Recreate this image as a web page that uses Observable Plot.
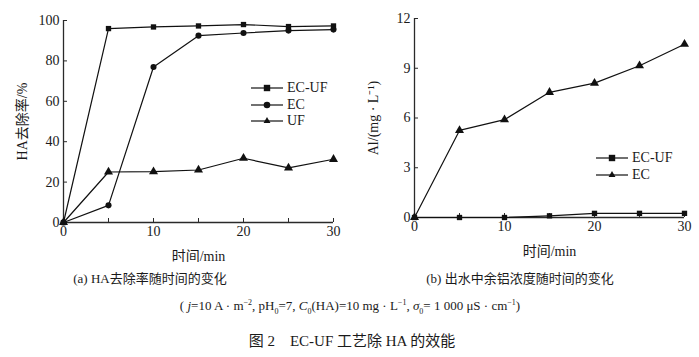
<!DOCTYPE html>
<html><head><meta charset="utf-8">
<script src="https://cdn.jsdelivr.net/npm/d3@7"></script>
<script src="https://cdn.jsdelivr.net/npm/@observablehq/plot@0.6"></script>
<style>
body{margin:0;background:#fff;width:699px;height:357px;position:relative;overflow:hidden;font-family:"Liberation Serif","Noto Sans CJK SC",serif;color:#1a1a1a}
.abs{position:absolute;white-space:nowrap}
.cap{font-size:13px;transform:translateX(-50%)}
</style></head><body>
<div id="a" class="abs" style="left:0;top:0"></div>
<div id="b" class="abs" style="left:350px;top:0"></div>
<div class="abs cap" style="left:150px;top:268px">(a) HA去除率随时间的变化</div>
<div class="abs cap" style="left:520px;top:268px">(b) 出水中余铝浓度随时间的变化</div>
<div class="abs cap" style="left:350px;top:298px">( <i>j</i>=10 A · m<sup style="font-size:8px">−2</sup>, pH<sub style="font-size:8px">0</sub>=7, <i>C</i><sub style="font-size:8px">0</sub>(HA)=10 mg · L<sup style="font-size:8px">−1</sup>, <i>σ</i><sub style="font-size:8px">0</sub>= 1 000 μS · cm<sup style="font-size:8px">−1</sup>)</div>
<div class="abs cap" style="left:352px;top:329px;font-size:15px">图 2&nbsp;&nbsp;&nbsp;&nbsp;EC-UF 工艺除 HA 的效能</div>
<script>
// ---- data ----
const time = [0, 5, 10, 15, 20, 25, 30];
const removalECUF = [0, 96, 96.8, 97.3, 98, 97, 97.3];
const removalEC   = [0, 8.5, 77, 92.5, 93.8, 95, 95.5];
const removalUF   = [0, 25, 25.2, 26, 31.8, 27, 31.3];
const alECUF = [0, 0, 0, 0.1, 0.25, 0.25, 0.25];
const alEC   = [0, 5.25, 5.9, 7.55, 8.1, 9.15, 10.45];
const xTicks = [0, 5, 10, 15, 20, 25, 30];
const xLabels = [0, 10, 20, 30];
const yTicksA = [0, 20, 40, 60, 80, 100];
const yTicksB = [0, 3, 6, 9, 12];
const seriesA = [
  {name: "EC-UF", values: removalECUF, symbol: "square"},
  {name: "EC", values: removalEC, symbol: "circle"},
  {name: "UF", values: removalUF, symbol: "triangle"}
];
const seriesB = [
  {name: "EC-UF", values: alECUF, symbol: "square"},
  {name: "EC", values: alEC, symbol: "triangle"}
];
const rSym = {square: 3.2, circle: 3.3, triangle: 4};

function rows(series) {
  return series.flatMap(s => time.map((t, i) => ({t, v: s.values[i], name: s.name, symbol: s.symbol})));
}

function chart({series, yDomain, yTicks, yLabel, width, ml, mr, mt, mb, height, labelOffsetY}) {
  const data = rows(series);
  const fw = width - ml - mr, fh = height - mt - mb;
  const ax = "#2a2a2a";
  return Plot.plot({
    width, height, marginLeft: ml, marginRight: mr, marginTop: mt, marginBottom: mb,
    style: {fontFamily: '"Liberation Serif","Noto Sans CJK SC",serif', fontSize: "14px", color: "#1a1a1a", background: "#fff"},
    x: {domain: [0, 30]},
    y: {domain: yDomain},
    marks: [
      Plot.ruleX([0], {stroke: ax, strokeWidth: 1.3}),
      Plot.ruleY([yDomain[0]], {stroke: ax, strokeWidth: 1.3}),
      Plot.tickX(xTicks, {x: d => d, insetTop: fh - 4, stroke: ax}),
      Plot.tickY(yTicks, {y: d => d, insetRight: fw - 4, stroke: ax}),
      Plot.axisX(xLabels, {tickSize: 0, tickPadding: 4, label: "时间/min", labelAnchor: "center", labelOffset: 38, labelArrow: "none", fontSize: 14}),
      Plot.axisY(yTicks, {tickSize: 0, tickPadding: 4, label: yLabel, labelAnchor: "center", labelOffset: labelOffsetY, labelArrow: "none", fontSize: 14}),
      Plot.line(data, {x: "t", y: "v", z: "name", stroke: "#111", strokeWidth: 1.2}),
      Plot.dot(data, {x: "t", y: "v", symbol: "symbol", r: d => rSym[d.symbol], fill: "#111", stroke: "none"})
    ],
    symbol: {type: "identity"}
  });
}

function legend(series, left, top, gap) {
  const div = document.createElement("div");
  div.className = "abs";
  div.style.left = left + "px";
  div.style.top = top + "px";
  series.forEach((s, i) => {
    const row = document.createElement("div");
    row.style.cssText = `height:${gap}px;display:flex;align-items:center;font-size:14px;`;
    const svg = d3.create("svg").attr("width", 34).attr("height", 12).style("display", "block");
    svg.append("line").attr("x1", 0).attr("x2", 32).attr("y1", 6).attr("y2", 6).attr("stroke", "#111").attr("stroke-width", 1.2);
    const sym = s.symbol === "square" ? d3.symbolSquare : s.symbol === "circle" ? d3.symbolCircle : d3.symbolTriangle;
    const r = rSym[s.symbol];
    const area = s.symbol === "square" ? (2*r)**2 : s.symbol === "circle" ? Math.PI*r*r : r*r*1.3;
    svg.append("path").attr("d", d3.symbol(sym, area)()).attr("transform", "translate(16,6)").attr("fill", "#111");
    row.appendChild(svg.node());
    const t = document.createElement("span");
    t.textContent = s.name;
    t.style.marginLeft = "2px";
    row.appendChild(t);
    div.appendChild(row);
  });
  document.body.appendChild(div);
}

document.getElementById("a").appendChild(chart({
  series: seriesA, yDomain: [0, 100], yTicks: yTicksA, yLabel: "HA去除率/%",
  width: 350, ml: 63, mr: 17, mt: 20, mb: 40, height: 262, labelOffsetY: 46
}));
document.getElementById("b").appendChild(chart({
  series: seriesB, yDomain: [0, 12], yTicks: yTicksB, yLabel: "Al/(mg · L⁻¹)",
  width: 349, ml: 64, mr: 15, mt: 18, mb: 45, height: 262, labelOffsetY: 46
}));
legend(seriesA, 251, 80, 16.5);
legend(seriesB, 596, 150, 16.5);
</script>
</body></html>
